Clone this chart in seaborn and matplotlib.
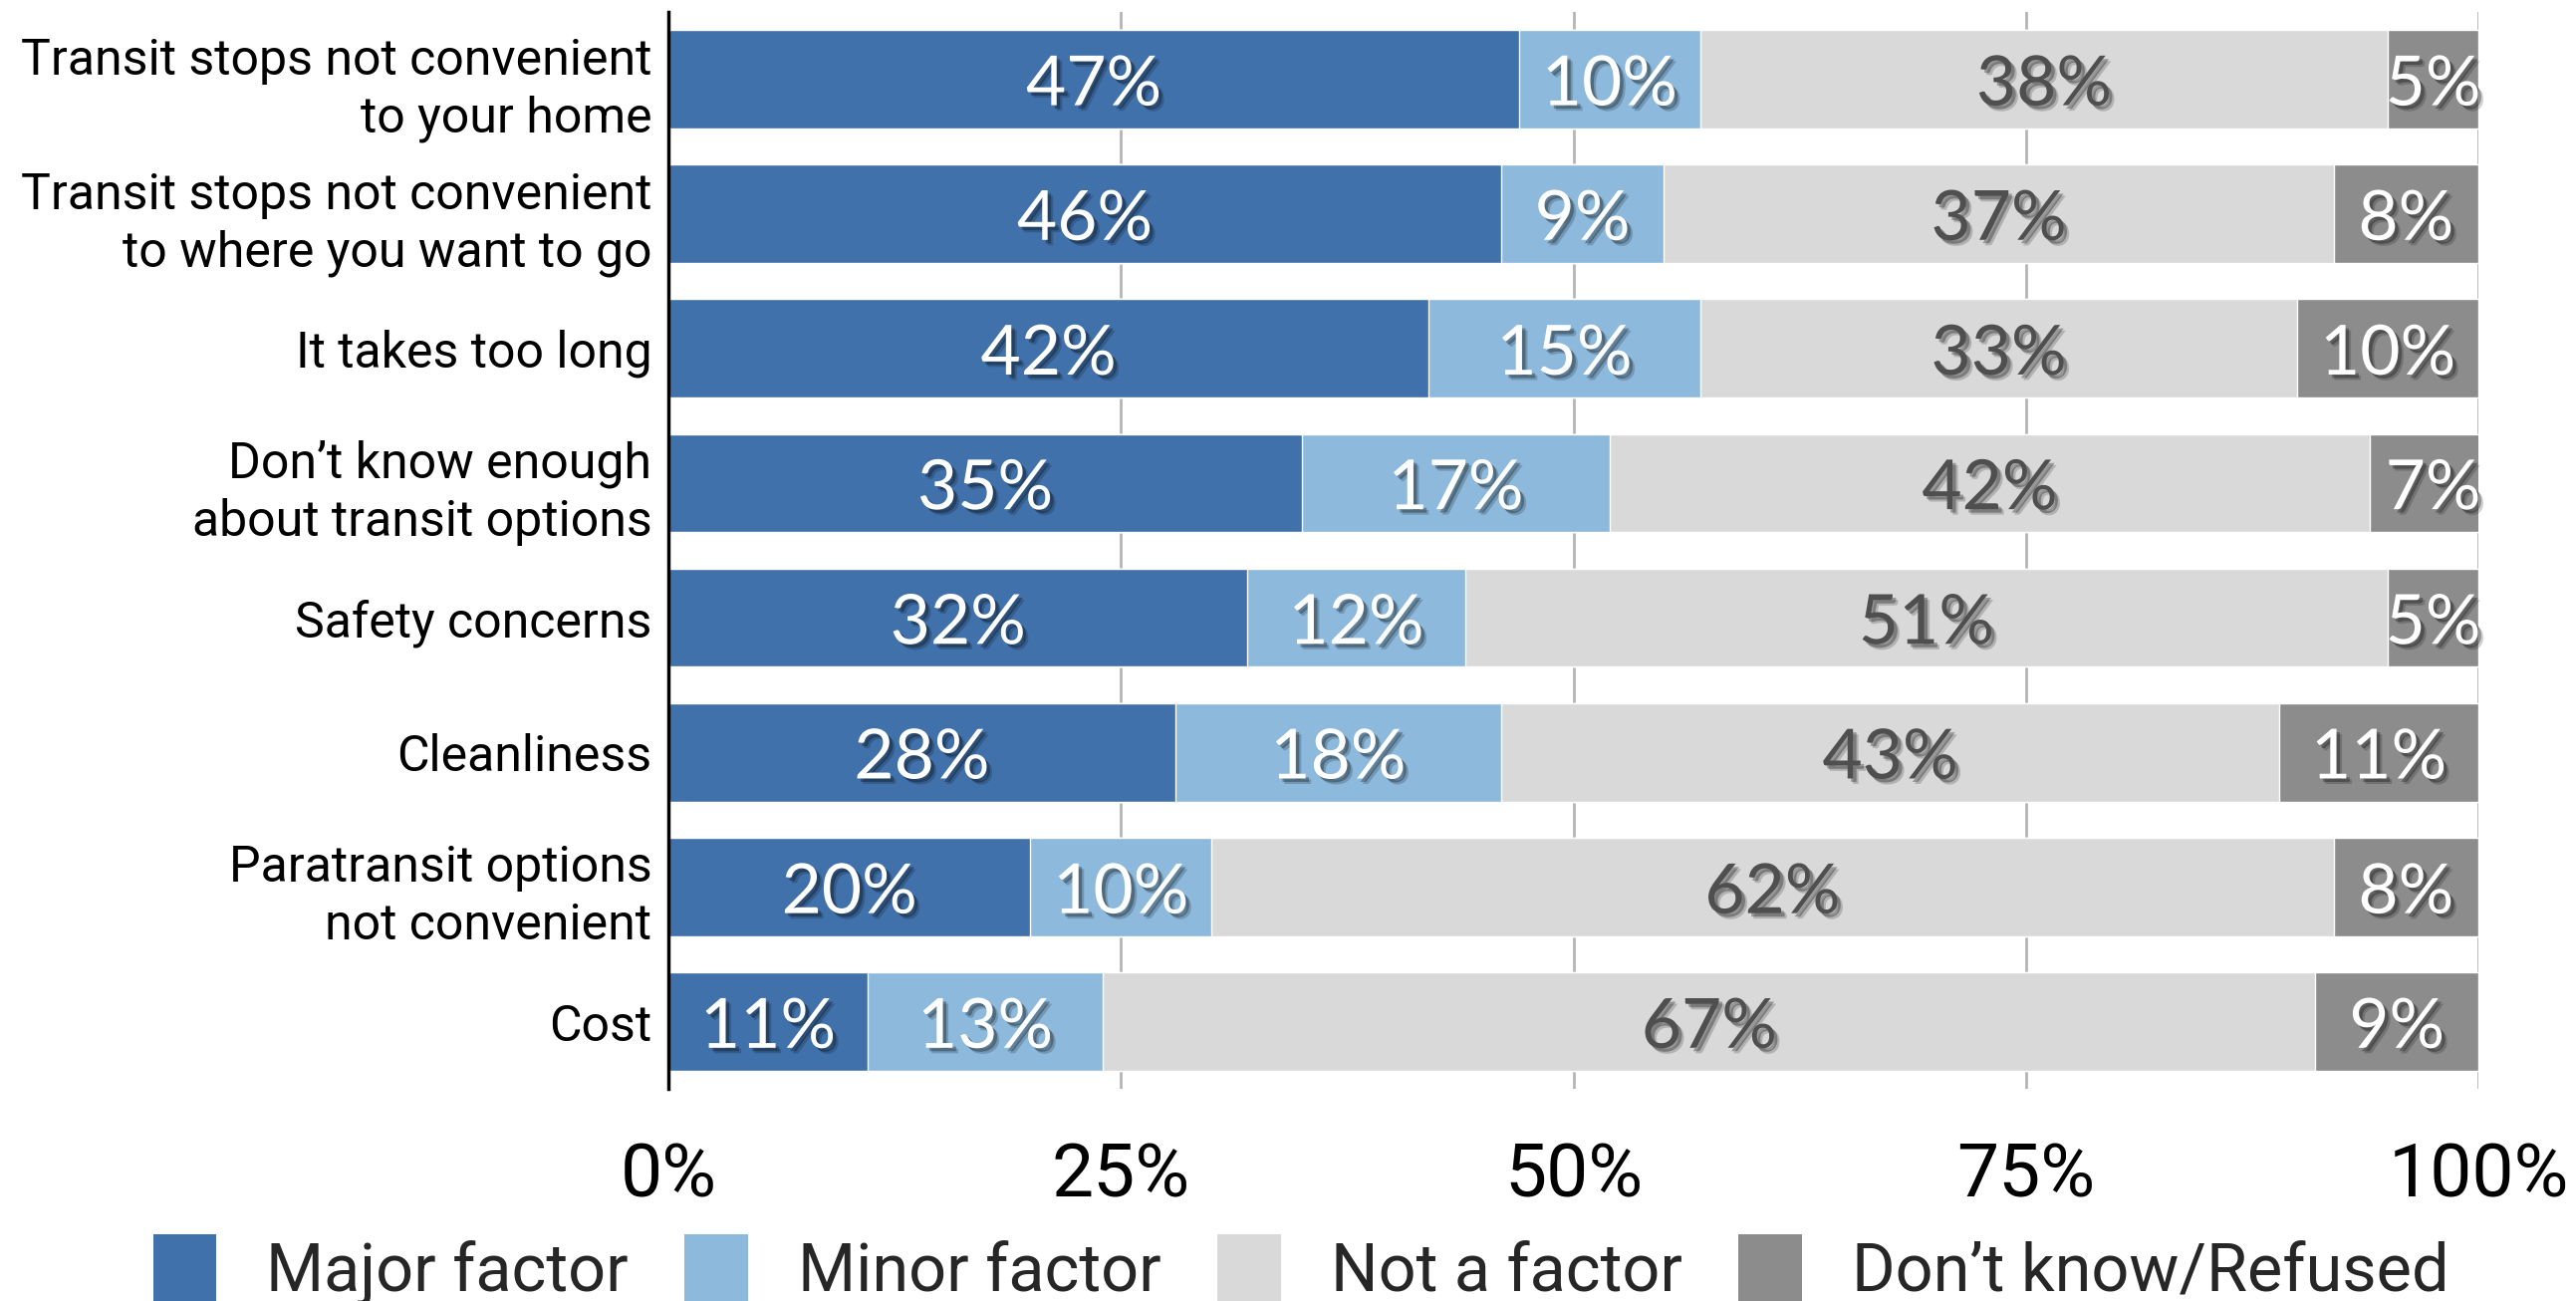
import matplotlib
matplotlib.use('Agg')
import matplotlib.pyplot as plt
import matplotlib.patheffects as pe
from matplotlib import font_manager
from matplotlib.patches import Patch
import pandas as pd
import seaborn as sns

# Survey data (percent of respondents)
categories = [
    "Transit stops not convenient\nto your home",
    "Transit stops not convenient\nto where you want to go",
    "It takes too long",
    "Don\u2019t know enough\nabout transit options",
    "Safety concerns",
    "Cleanliness",
    "Paratransit options\nnot convenient",
    "Cost",
]
major = [47, 46, 42, 35, 32, 28, 20, 11]
minor = [10, 9, 15, 17, 12, 18, 10, 13]
not_factor = [38, 37, 33, 42, 51, 43, 62, 67]
dont_know = [5, 8, 10, 7, 5, 11, 8, 9]
series_names = ["Major factor", "Minor factor", "Not a factor", "Don\u2019t know/Refused"]
x_ticks = [0, 25, 50, 75, 100]

colors = ["#4071ab", "#8cb9dc", "#d9d9d9", "#8c8c8c"]
label_colors = ["white", "white", "#4f4f4f", "white"]

sns.set_theme(style="white")
installed = {f.name for f in font_manager.fontManager.ttflist}
main_font = "Liberation Sans Narrow" if "Liberation Sans Narrow" in installed else "Roboto"
plt.rcParams["font.family"] = [main_font, "DejaVu Sans"]

df = pd.DataFrame({"category": categories, "Major": major, "Minor": minor,
                   "Not": not_factor, "DK": dont_know})
cols = ["Major", "Minor", "Not", "DK"]
cum = df[cols].cumsum(axis=1)
for c in cols:
    df["cum_" + c] = cum[c]

fig = plt.figure(figsize=(25.86, 13.06), dpi=100)
ax = fig.add_axes([0.2595, 0.163, 0.7026, 0.828])

# draw stacked bars as overlapping cumulative bars, widest first
for i in reversed(range(4)):
    sns.barplot(data=df, y="category", x="cum_" + cols[i], order=categories,
                orient="h", color=colors[i], saturation=1, width=0.73,
                errorbar=None, ax=ax, zorder=2)

shadow = [pe.SimplePatchShadow(offset=(4, -4), shadow_rgbFace="black", alpha=0.18),
          pe.withSimplePatchShadow(offset=(2.5, -2.5), shadow_rgbFace="black", alpha=0.3)]
for i, c in enumerate(cols):
    for row in range(len(df)):
        v = df.loc[row, c]
        xc = df.loc[row, "cum_" + c] - v / 2
        ax.text(xc, row + 0.05, f"{v}%", ha="center", va="center", fontsize=50,
                color=label_colors[i], family=["Lato", "DejaVu Sans"],
                path_effects=shadow, zorder=5)

ax.set_xlim(0, 100)
ax.set_ylim(7.5, -0.5)
ax.set_xticks(x_ticks)
ax.set_xticklabels([f"{t}%" for t in x_ticks])
ax.set_xlabel("")
ax.set_ylabel("")
ax.xaxis.grid(True, color="#b5b5b5", linewidth=2)
ax.yaxis.grid(False)
ax.set_axisbelow(True)
for s in ["top", "right", "bottom"]:
    ax.spines[s].set_visible(False)
ax.spines["left"].set_color("black")
ax.spines["left"].set_linewidth(2.5)
ax.spines["left"].set_zorder(6)
ax.tick_params(axis="x", length=0, pad=38, labelsize=54, colors="black")
ax.tick_params(axis="y", length=0, pad=12, labelsize=36, colors="black")
for lab in ax.get_yticklabels():
    lab.set_linespacing(1.25)

handles = [Patch(facecolor=col, edgecolor="none") for col in colors]
fig.legend(handles, series_names, loc="lower center", bbox_to_anchor=(0.505, -0.05),
           ncol=4, frameon=False, fontsize=48, handlelength=0.95, handleheight=1.25,
           handletextpad=0.75, columnspacing=0.85)

fig.savefig("out.png", dpi=100)
